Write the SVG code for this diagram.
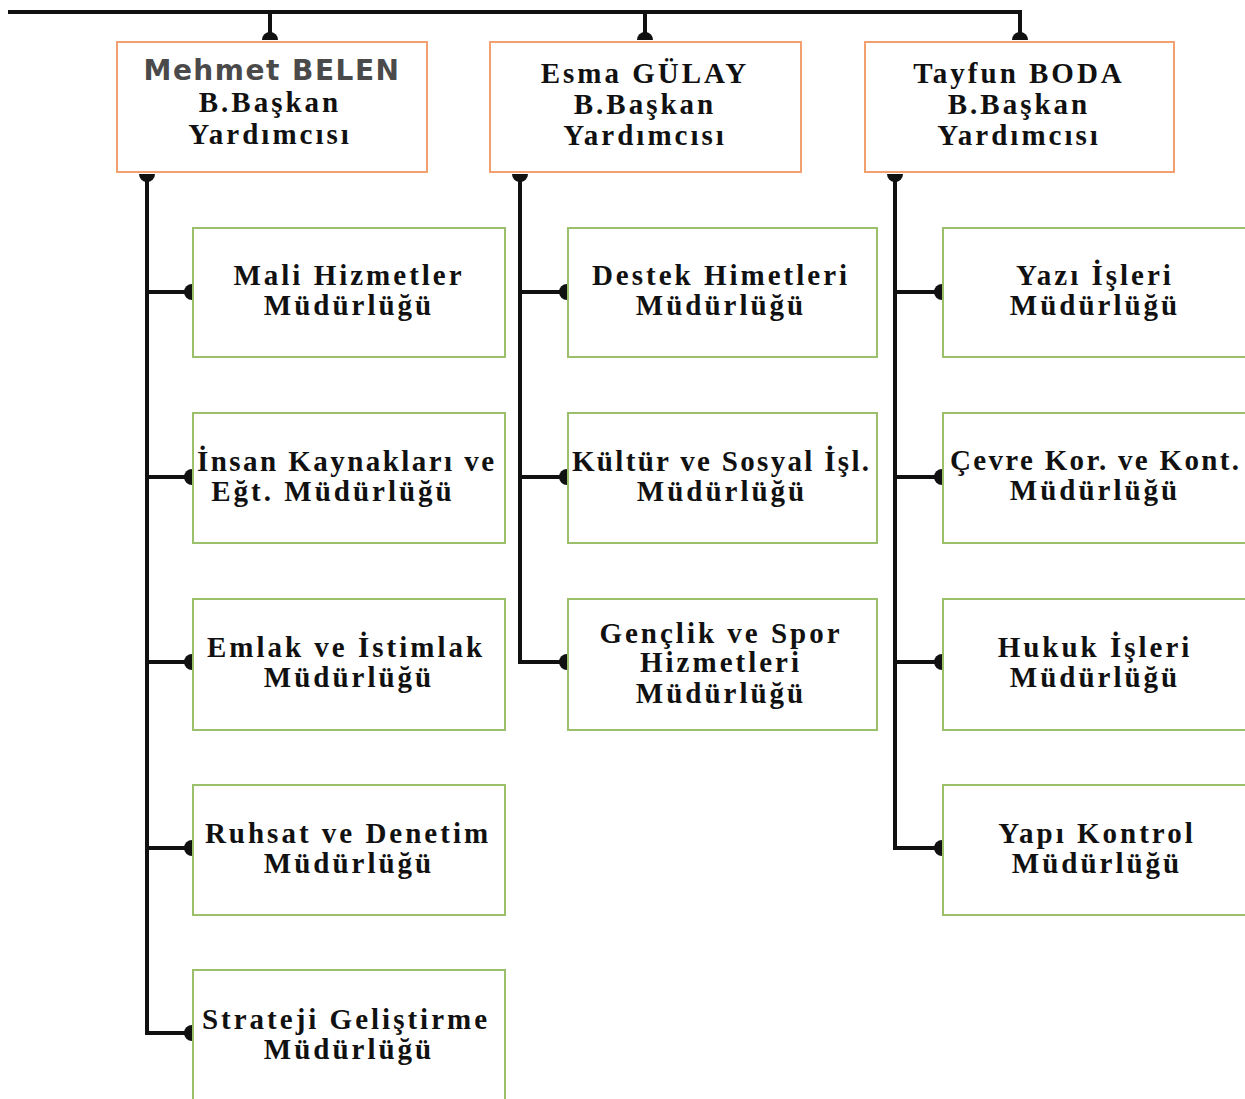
<svg xmlns="http://www.w3.org/2000/svg" width="1245" height="1099" viewBox="0 0 1245 1099">
<defs>
<marker id="cap" viewBox="0 -8 8 16" refX="8" refY="0" markerWidth="8" markerHeight="16" markerUnits="userSpaceOnUse" orient="auto-start-reverse">
<path d="M8,-8 A8,8 0 0,0 8,8 Z" fill="#111"/>
</marker>
<style>
.ln{fill:none;stroke:#111;stroke-width:4}
.hd{fill:#fff;stroke:#f2a070;stroke-width:2}
.ch{fill:#fff;stroke:#9cbf6c;stroke-width:2}
.t{font-family:"Liberation Serif","Times New Roman",serif;font-weight:bold;font-size:29px;fill:#111;text-anchor:middle;letter-spacing:3px}
.s{font-family:"DejaVu Sans","Liberation Sans",sans-serif;font-weight:bold;font-size:28px;fill:#4a4a4a;text-anchor:middle;letter-spacing:1.5px}
</style>
</defs>
<rect width="1245" height="1099" fill="#fff"/>
<g id="connectors">
<path class="ln" d="M8,12 H1020 V40" marker-end="url(#cap)"/>
<path class="ln" d="M270,12 V40" marker-end="url(#cap)"/>
<path class="ln" d="M645,12 V40" marker-end="url(#cap)"/>
<path class="ln" d="M147,174 V1033 H192" marker-start="url(#cap)" marker-end="url(#cap)"/>
<path class="ln" d="M147,292 H192" marker-end="url(#cap)"/>
<path class="ln" d="M147,477 H192" marker-end="url(#cap)"/>
<path class="ln" d="M147,662 H192" marker-end="url(#cap)"/>
<path class="ln" d="M147,848 H192" marker-end="url(#cap)"/>
<path class="ln" d="M520,174 V662 H567" marker-start="url(#cap)" marker-end="url(#cap)"/>
<path class="ln" d="M520,292 H567" marker-end="url(#cap)"/>
<path class="ln" d="M520,477 H567" marker-end="url(#cap)"/>
<path class="ln" d="M895,174 V848 H942" marker-start="url(#cap)" marker-end="url(#cap)"/>
<path class="ln" d="M895,292 H942" marker-end="url(#cap)"/>
<path class="ln" d="M895,477 H942" marker-end="url(#cap)"/>
<path class="ln" d="M895,662 H942" marker-end="url(#cap)"/>
</g>
<g id="n-belen"><rect class="hd" x="117" y="42" width="310" height="130"/>
<text class="s" x="272" y="80">Mehmet BELEN</text>
<text class="t" x="270" y="112">B.Başkan</text><text class="t" x="270" y="144">Yardımcısı</text></g>
<g id="n-gulay"><rect class="hd" x="490" y="42" width="311" height="130"/>
<text class="t" x="645" y="83">Esma GÜLAY</text>
<text class="t" x="645" y="114">B.Başkan</text><text class="t" x="645" y="145">Yardımcısı</text></g>
<g id="n-boda"><rect class="hd" x="865" y="42" width="309" height="130"/>
<text class="t" x="1019" y="83">Tayfun BODA</text>
<text class="t" x="1019" y="114">B.Başkan</text><text class="t" x="1019" y="145">Yardımcısı</text></g>

<g id="n-mali"><rect class="ch" x="193" y="228" width="312" height="129"/>
<text class="t" x="349" y="285">Mali Hizmetler</text><text class="t" x="349" y="315">Müdürlüğü</text></g>
<g id="n-insan"><rect class="ch" x="193" y="413" width="312" height="130"/>
<text class="t" x="347" y="471" textLength="300" lengthAdjust="spacing">İnsan Kaynakları ve</text><text class="t" x="333" y="501">Eğt. Müdürlüğü</text></g>
<g id="n-emlak"><rect class="ch" x="193" y="599" width="312" height="131"/>
<text class="t" x="346" y="657">Emlak ve İstimlak</text><text class="t" x="349" y="687">Müdürlüğü</text></g>
<g id="n-ruhsat"><rect class="ch" x="193" y="785" width="312" height="130"/>
<text class="t" x="348" y="843">Ruhsat ve Denetim</text><text class="t" x="349" y="873">Müdürlüğü</text></g>
<g id="n-strateji"><rect class="ch" x="193" y="970" width="312" height="140"/>
<text class="t" x="346" y="1029">Strateji Geliştirme</text><text class="t" x="349" y="1059">Müdürlüğü</text></g>

<g id="n-destek"><rect class="ch" x="568" y="228" width="309" height="129"/>
<text class="t" x="721" y="285">Destek Himetleri</text><text class="t" x="721" y="315">Müdürlüğü</text></g>
<g id="n-kultur"><rect class="ch" x="568" y="413" width="309" height="130"/>
<text class="t" x="722" y="471" textLength="300" lengthAdjust="spacing">Kültür ve Sosyal İşl.</text><text class="t" x="722" y="501">Müdürlüğü</text></g>
<g id="n-genclik"><rect class="ch" x="568" y="599" width="309" height="131"/>
<text class="t" x="721" y="643">Gençlik ve Spor</text><text class="t" x="721" y="672">Hizmetleri</text><text class="t" x="721" y="703">Müdürlüğü</text></g>

<g id="n-yazi"><rect class="ch" x="943" y="228" width="310" height="129"/>
<text class="t" x="1095" y="285">Yazı İşleri</text><text class="t" x="1095" y="315">Müdürlüğü</text></g>
<g id="n-cevre"><rect class="ch" x="943" y="413" width="310" height="130"/>
<text class="t" x="1096" y="470" textLength="292" lengthAdjust="spacing">Çevre Kor. ve Kont.</text><text class="t" x="1095" y="500">Müdürlüğü</text></g>
<g id="n-hukuk"><rect class="ch" x="943" y="599" width="310" height="131"/>
<text class="t" x="1095" y="657">Hukuk İşleri</text><text class="t" x="1095" y="687">Müdürlüğü</text></g>
<g id="n-yapi"><rect class="ch" x="943" y="785" width="310" height="130"/>
<text class="t" x="1097" y="843">Yapı Kontrol</text><text class="t" x="1097" y="873">Müdürlüğü</text></g>
</svg>
